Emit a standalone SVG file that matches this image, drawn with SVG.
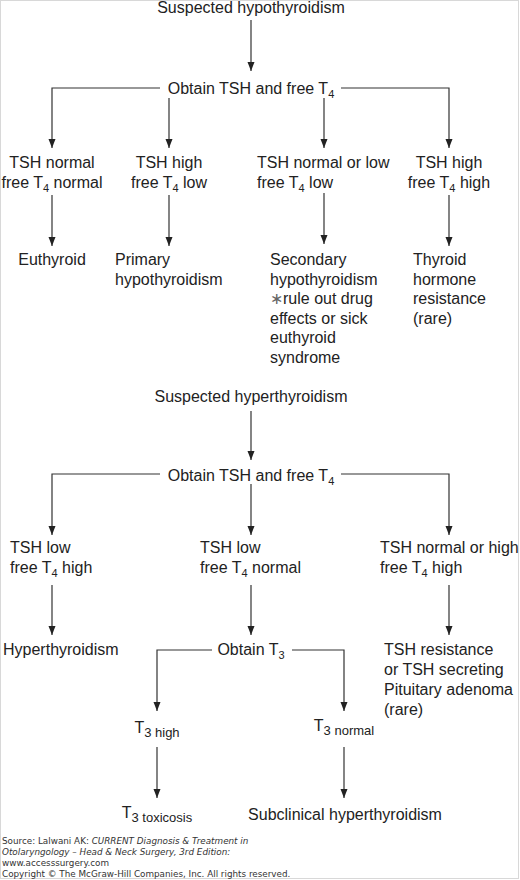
<svg xmlns="http://www.w3.org/2000/svg" width="520" height="880" viewBox="0 0 520 880">
<style>
  .t { font-family: "Liberation Sans", Arial, sans-serif; font-size: 16px; fill: #222; }
  .m { text-anchor: middle; }
  .sub { font-size: 11px; }
  .sub2 { font-size: 13px; }
  .c { fill: none; stroke: #333; stroke-width: 1.2; }
  .a { marker-end: url(#arr); }
  .f { font-family: "DejaVu Sans", Verdana, sans-serif; font-size: 8.8px; fill: #333; }
</style>
<defs>
  <marker id="arr" markerUnits="userSpaceOnUse" markerWidth="10" markerHeight="8" refX="9" refY="3.5" orient="auto">
    <path d="M0,0 L9,3.5 L0,7 Z" fill="#222"/>
  </marker>
</defs>
<rect x="0.5" y="0.5" width="518" height="878" fill="#fff" stroke="#d8d8d8" stroke-width="1"/>

<g id="connectors">
  <path class="c a" d="M251,20 V71"/>
  <path class="c a" d="M160,88 H52 V148"/>
  <path class="c a" d="M341,88 H449 V148"/>
  <path class="c a" d="M169,98 V148"/>
  <path class="c a" d="M324,98 V148"/>
  <path class="c a" d="M52,195 V246"/>
  <path class="c a" d="M169,195 V246"/>
  <path class="c a" d="M324,193 V244"/>
  <path class="c a" d="M449,195 V246"/>

  <path class="c a" d="M251,411 V460"/>
  <path class="c a" d="M160,474 H52 V535"/>
  <path class="c a" d="M341,474 H449 V535"/>
  <path class="c a" d="M251,484 V535"/>
  <path class="c a" d="M52,585 V635"/>
  <path class="c a" d="M251,585 V635"/>
  <path class="c a" d="M449,585 V635"/>
  <path class="c a" d="M212,650 H157 V711"/>
  <path class="c a" d="M292,650 H344 V711"/>
  <path class="c a" d="M157,747 V798"/>
  <path class="c a" d="M344,747 V798"/>
</g>

<g id="hypo-start"><text class="t m" x="251" y="13">Suspected hypothyroidism</text></g>
<g id="hypo-obtain"><text class="t m" x="251" y="94">Obtain TSH and free T<tspan class="sub" dy="4">4</tspan></text></g>

<g id="hypo-r1"><text class="t m" y="168"><tspan x="52">TSH normal</tspan><tspan x="52" dy="20">free T<tspan class="sub" dy="4">4</tspan><tspan dy="-4"> normal</tspan></tspan></text></g>
<g id="hypo-r2"><text class="t m" y="168"><tspan x="169">TSH high</tspan><tspan x="169" dy="20">free T<tspan class="sub" dy="4">4</tspan><tspan dy="-4"> low</tspan></tspan></text></g>
<g id="hypo-r3"><text class="t" y="168"><tspan x="257">TSH normal or low</tspan><tspan x="257" dy="20">free T<tspan class="sub" dy="4">4</tspan><tspan dy="-4"> low</tspan></tspan></text></g>
<g id="hypo-r4"><text class="t m" y="168"><tspan x="449">TSH high</tspan><tspan x="449" dy="20">free T<tspan class="sub" dy="4">4</tspan><tspan dy="-4"> high</tspan></tspan></text></g>

<g id="euthyroid"><text class="t m" x="52" y="265">Euthyroid</text></g>
<g id="primary"><text class="t" y="265"><tspan x="115">Primary</tspan><tspan x="115" dy="19.5">hypothyroidism</tspan></text></g>
<g id="secondary"><text class="t" y="265"><tspan x="270">Secondary</tspan><tspan x="270" dy="19.5">hypothyroidism</tspan><tspan x="270" dy="19.5"><tspan fill="#666">∗</tspan>rule out drug</tspan><tspan x="270" dy="19.5">effects or sick</tspan><tspan x="270" dy="19.5">euthyroid</tspan><tspan x="270" dy="19.5">syndrome</tspan></text></g>
<g id="resistance"><text class="t" y="265"><tspan x="413">Thyroid</tspan><tspan x="413" dy="19.5">hormone</tspan><tspan x="413" dy="19.5">resistance</tspan><tspan x="413" dy="19.5">(rare)</tspan></text></g>

<g id="hyper-start"><text class="t m" x="251" y="402">Suspected hyperthyroidism</text></g>
<g id="hyper-obtain"><text class="t m" x="251" y="481">Obtain TSH and free T<tspan class="sub" dy="4">4</tspan></text></g>

<g id="hyper-r1"><text class="t" y="553"><tspan x="10">TSH low</tspan><tspan x="10" dy="20">free T<tspan class="sub" dy="4">4</tspan><tspan dy="-4"> high</tspan></tspan></text></g>
<g id="hyper-r2"><text class="t" y="553"><tspan x="200">TSH low</tspan><tspan x="200" dy="20">free T<tspan class="sub" dy="4">4</tspan><tspan dy="-4"> normal</tspan></tspan></text></g>
<g id="hyper-r3"><text class="t" y="553"><tspan x="380">TSH normal or high</tspan><tspan x="380" dy="20">free T<tspan class="sub" dy="4">4</tspan><tspan dy="-4"> high</tspan></tspan></text></g>

<g id="hyperthyroidism"><text class="t" x="3" y="655">Hyperthyroidism</text></g>
<g id="obtain-t3"><text class="t m" x="251" y="655">Obtain T<tspan class="sub" dy="4">3</tspan></text></g>
<g id="tsh-resistance"><text class="t" y="655"><tspan x="384">TSH resistance</tspan><tspan x="384" dy="20">or TSH secreting</tspan><tspan x="384" dy="20">Pituitary adenoma</tspan><tspan x="384" dy="20">(rare)</tspan></text></g>

<g id="t3-high"><text class="t m" x="157" y="733">T<tspan class="sub2" dy="4">3 high</tspan></text></g>
<g id="t3-normal"><text class="t m" x="344" y="731">T<tspan class="sub2" dy="4">3 normal</tspan></text></g>
<g id="t3-toxicosis"><text class="t m" x="157" y="818">T<tspan class="sub2" dy="4">3 toxicosis</tspan></text></g>
<g id="subclinical"><text class="t m" x="345" y="820">Subclinical hyperthyroidism</text></g>

<g id="footer">
  <text class="f" x="2" y="844">Source: Lalwani AK: <tspan font-style="italic">CURRENT Diagnosis &amp; Treatment in</tspan></text>
  <text class="f" x="2" y="855" font-style="italic">Otolaryngology – Head &amp; Neck Surgery, 3rd Edition:</text>
  <text class="f" x="2" y="866">www.accesssurgery.com</text>
  <text class="f" x="2" y="877">Copyright © The McGraw-Hill Companies, Inc. All rights reserved.</text>
</g>
</svg>
